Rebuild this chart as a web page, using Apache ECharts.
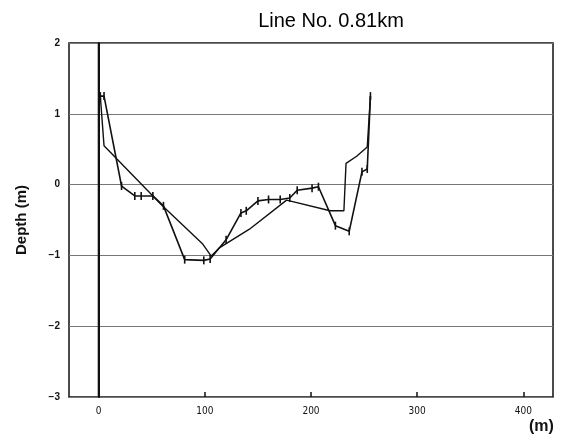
<!DOCTYPE html>
<html>
<head>
<meta charset="utf-8">
<script src="https://cdn.jsdelivr.net/npm/echarts@6/dist/echarts.min.js"></script>
<style>
html,body{margin:0;padding:0;background:#fff;}
#chart{width:562px;height:441px;}
</style>
</head>
<body>
<div id="chart"></div>
<script>
// Cross-section survey, Line No. 0.81km: distance (m) vs depth (m)
const xTicks = [0, 100, 200, 300, 400];

// Profile with survey point ticks
const surveyA = [
  [1.5, 1.25], [5, 1.25], [21.5, -0.02], [34, -0.16], [40, -0.16], [51, -0.16],
  [61, -0.30], [81, -1.06], [99, -1.07], [105, -1.05], [120, -0.78],
  [134, -0.40], [139, -0.37], [150, -0.23], [160, -0.21], [171, -0.21],
  [180, -0.19], [187, -0.08], [201, -0.05], [207, -0.03], [223, -0.58],
  [236, -0.66], [248, 0.18], [253, 0.22], [256, 1.25]
];

// Comparison profile (plain line)
const surveyB = [
  [1.5, 1.25], [5, 0.55], [60, -0.30], [98, -0.84], [106, -1.01], [114, -0.89],
  [142, -0.63], [177, -0.22], [218, -0.37], [231, -0.37], [233, 0.30],
  [243, 0.40], [253, 0.53], [256, 1.25]
];

// Reference line at distance 0
const zeroLine = [[0, -3], [0, 2]];

const chart = echarts.init(document.getElementById('chart'));
chart.setOption({
  animation: false,
  backgroundColor: '#fff',
  title: {
    text: 'Line No. 0.81km',
    left: 326, top: 6, textAlign: 'center',
    textStyle: { fontFamily: 'Liberation Sans', fontSize: 20, fontWeight: 'normal', color: '#000' }
  },
  grid: { left: 69, right: 9, top: 43, bottom: 44, show: true, borderColor: '#111', borderWidth: 1.5 },
  xAxis: {
    type: 'value', min: -28, max: 428,
    axisLine: { show: false, onZero: false },
    axisTick: { show: true, inside: true, length: 5, customValues: xTicks, lineStyle: { color: '#111', width: 1.5 } },
    axisLabel: { customValues: xTicks, margin: 9, fontFamily: 'DejaVu Sans Condensed', fontSize: 10, color: '#111' },
    splitLine: { show: false }
  },
  yAxis: {
    type: 'value', min: -3, max: 2, interval: 1,
    name: 'Depth (m)', nameLocation: 'middle', nameRotate: 90, nameGap: 40,
    nameTextStyle: { fontFamily: 'Liberation Sans', fontSize: 15, fontWeight: 'bold', color: '#111' },
    axisLine: { show: true, lineStyle: { color: '#111', width: 2 } },
    axisTick: { show: false },
    axisLabel: {
      margin: 9, fontFamily: 'Liberation Sans', fontSize: 10, fontWeight: 'bold', color: '#111',
      formatter: v => (v < 0 ? '\u2212' + Math.abs(v) : String(v))
    },
    splitLine: { show: true, lineStyle: { color: '#777', width: 1.2 } }
  },
  graphic: [{
    type: 'text', left: 529, top: 419,
    style: { text: '(m)', fontFamily: 'Liberation Sans', fontSize: 16, fontWeight: 'bold', fill: '#111' }
  }],
  series: [
    {
      type: 'line', data: zeroLine, symbol: 'none',
      lineStyle: { color: '#111', width: 2 }
    },
    {
      type: 'line', data: surveyB, symbol: 'none',
      lineStyle: { color: '#111', width: 1.4 }
    },
    {
      type: 'line', data: surveyA, symbol: 'rect', symbolSize: [1.6, 8],
      itemStyle: { color: '#111' },
      lineStyle: { color: '#111', width: 1.6 }
    }
  ]
});
</script>
</body>
</html>
